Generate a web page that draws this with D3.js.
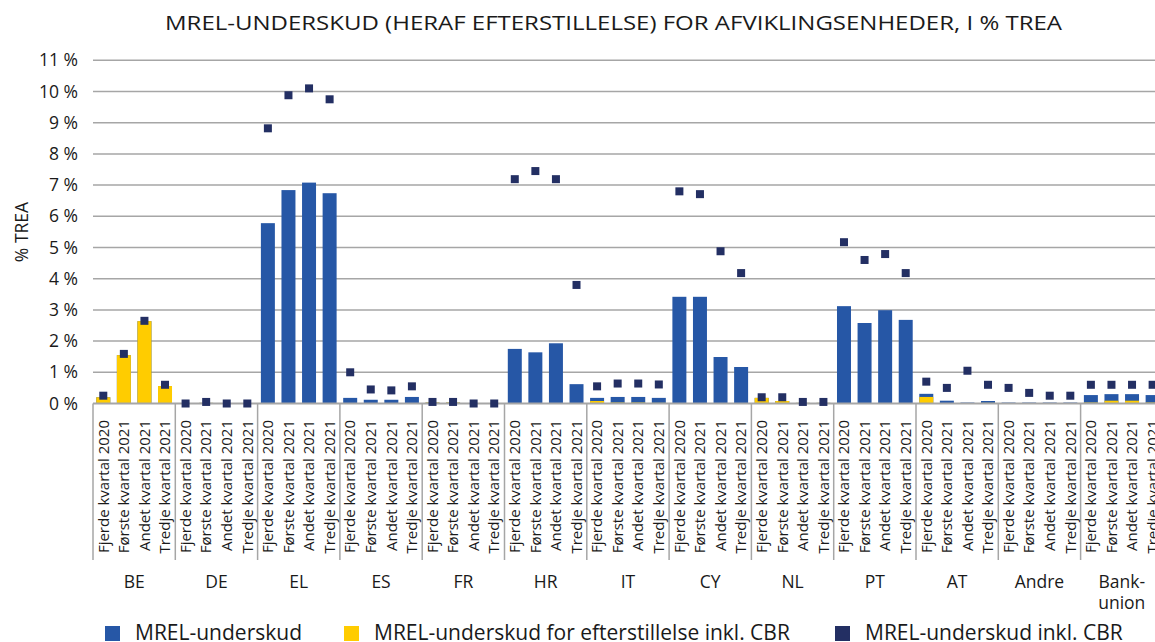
<!DOCTYPE html>
<html><head><meta charset="utf-8">
<script src="https://cdn.jsdelivr.net/npm/d3@7"></script>
<style>
html,body{margin:0;padding:0;background:#fff;}
svg{display:block;font-family:"Open Sans",sans-serif;}
</style></head>
<body><svg id="c" width="1155" height="642"></svg>
<script>
const groups = ["BE","DE","EL","ES","FR","HR","IT","CY","NL","PT","AT","Andre","Bank-union"];
const quarters = ["Fjerde kvartal 2020","Første kvartal 2021","Andet kvartal 2021","Tredje kvartal 2021"];
const yTicks = [0,1,2,3,4,5,6,7,8,9,10,11];
const seriesNames = ["MREL-underskud","MREL-underskud for efterstillelse inkl. CBR","MREL-underskud inkl. CBR"];

// MREL-underskud (total), per group x 4 quarters
const mrel = [
  0.20,1.55,2.64,0.56,   // BE
  0.00,0.02,0.00,0.00,   // DE
  5.78,6.84,7.08,6.74,   // EL
  0.18,0.12,0.12,0.21,   // ES
  0.03,0.03,0.00,0.00,   // FR
  1.75,1.64,1.93,0.62,   // HR
  0.18,0.21,0.21,0.18,   // IT
  3.42,3.42,1.49,1.17,   // CY
  0.18,0.08,0.02,0.02,   // NL
  3.12,2.58,2.99,2.68,   // PT
  0.31,0.09,0.03,0.08,   // AT
  0.03,0.03,0.03,0.03,   // Andre
  0.27,0.30,0.30,0.27    // Bankunion
];
// heraf efterstillelse
const sub = [
  0.20,1.55,2.64,0.56,
  0.00,0.02,0.00,0.00,
  0,0,0,0,
  0,0,0,0,
  0.03,0.03,0.00,0.00,
  0,0,0,0,
  0.08,0.03,0.03,0.02,
  0,0,0,0,
  0.18,0.08,0.02,0.02,
  0,0,0,0,
  0.21,0.00,0.00,0.02,
  0,0,0,0,
  0.03,0.09,0.09,0.03
];
// MREL-underskud inkl. CBR (markers)
const cbr = [
  0.25,1.59,2.65,0.60,
  0.00,0.05,0.00,0.00,
  8.82,9.88,10.10,9.75,
  1.00,0.45,0.42,0.55,
  0.05,0.05,0.00,0.00,
  7.19,7.45,7.19,3.80,
  0.55,0.64,0.64,0.61,
  6.80,6.71,4.88,4.18,
  0.20,0.20,0.05,0.05,
  5.17,4.60,4.79,4.18,
  0.70,0.50,1.05,0.60,
  0.50,0.34,0.25,0.25,
  0.60,0.60,0.60,0.60
];

const colBlue = "#2657a6", colYellow = "#ffcc00", colNavy = "#232f63", colGrid = "#a6a6a6";
const svg = d3.select("#c");
const x0 = 93, groupW = 82.3;
const xG = d3.scaleBand().domain(groups).range([x0, x0 + groupW*groups.length]).padding(0);
const xQ = d3.scaleBand().domain(d3.range(4)).range([0, xG.bandwidth()]).paddingInner(0.32).paddingOuter(0.16);
const y = d3.scaleLinear().domain([0, 11]).range([403.5, 60.3]);

const data = [];
groups.forEach((g, gi) => quarters.forEach((q, qi) => {
  const i = gi*4 + qi;
  data.push({g, q, qi, mrel: mrel[i], sub: sub[i], cbr: cbr[i]});
}));
const bx = d => xG(d.g) + xQ(d.qi);
const cx = d => bx(d) + xQ.bandwidth()/2;

// title
svg.append("text").attr("x", 165).attr("y", 30)
  .attr("font-size", 20.5).attr("fill","#1a1a1a")
  .attr("textLength", 897).attr("lengthAdjust", "spacingAndGlyphs")
  .text("MREL-UNDERSKUD (HERAF EFTERSTILLELSE) FOR AFVIKLINGSENHEDER, I % TREA");

// gridlines
svg.append("g").selectAll("line").data(yTicks.filter(t => t > 0)).join("line")
  .attr("x1", x0).attr("x2", 1160).attr("y1", d => y(d)).attr("y2", d => y(d))
  .attr("stroke", colGrid).attr("stroke-width", 1.5);

// y axis labels
const yAxis = d3.axisLeft(y).tickValues(yTicks).tickSize(0).tickPadding(0).tickFormat(d => d + " %");
const ya = svg.append("g").attr("transform", "translate(78,0)").call(yAxis);
ya.select(".domain").remove();
ya.selectAll("text").attr("font-size", 17.5).attr("fill", "#1a1a1a").attr("font-family","Open Sans");

// y title
svg.append("text").attr("transform", "translate(28,232) rotate(-90)").attr("text-anchor","middle")
  .attr("font-size", 17.5).attr("fill","#1a1a1a").text("% TREA");

// bars: total (blue) and subordination (yellow) in front
svg.append("g").selectAll("rect").data(data.filter(d => d.mrel > 0)).join("rect")
  .attr("x", bx).attr("width", xQ.bandwidth())
  .attr("y", d => y(d.mrel)).attr("height", d => y(0) - y(d.mrel)).attr("fill", colBlue);
svg.append("g").selectAll("rect").data(data.filter(d => d.sub > 0)).join("rect")
  .attr("x", bx).attr("width", xQ.bandwidth())
  .attr("y", d => y(d.sub)).attr("height", d => y(0) - y(d.sub)).attr("fill", colYellow);

// x axis line
svg.append("line").attr("x1", x0).attr("x2", 1160).attr("y1", y(0)).attr("y2", y(0))
  .attr("stroke", colGrid).attr("stroke-width", 2);

// markers
svg.append("g").selectAll("rect").data(data).join("rect")
  .attr("x", d => cx(d) - 4).attr("y", d => y(d.cbr) - 4).attr("width", 8).attr("height", 8)
  .attr("fill", colNavy);

// group separators
svg.append("g").selectAll("line").data(groups).join("line")
  .attr("x1", d => xG(d)).attr("x2", d => xG(d)).attr("y1", y(0)).attr("y2", 560)
  .attr("stroke", colGrid).attr("stroke-width", 1.5);

// quarter labels
svg.append("g").selectAll("text").data(data).join("text")
  .attr("transform", d => `translate(${cx(d)},420) rotate(-90)`)
  .attr("dy", "0.35em").attr("text-anchor", "end")
  .attr("font-size", 15).attr("fill", "#1a1a1a").text(d => d.q);

// group labels
const gl = svg.append("g").selectAll("text").data(groups).join("text")
  .attr("x", d => xG(d) + xG.bandwidth()/2).attr("y", 588).attr("text-anchor","middle")
  .attr("font-size", 17.5).attr("fill","#1a1a1a");
gl.each(function(d){
  const parts = d === "Bank-union" ? ["Bank-","union"] : [d];
  d3.select(this).selectAll("tspan").data(parts).join("tspan")
    .attr("x", xG(d) + xG.bandwidth()/2).attr("dy", (p,i) => i ? 21 : 0).text(p => p);
});

// legend
const legX = [105, 344, 835];
const legCols = [colBlue, colYellow, colNavy];
const leg = svg.append("g").selectAll("g").data(seriesNames).join("g")
  .attr("transform", (d,i) => `translate(${legX[i]},0)`);
leg.append("rect").attr("x", 0).attr("y", 626).attr("width", 15).attr("height", 15)
  .attr("fill", (d,i) => legCols[i]);
leg.append("text").attr("x", 30).attr("y", 640).attr("font-size", 21).attr("fill","#1a1a1a").text(d => d);
</script>
</body></html>
